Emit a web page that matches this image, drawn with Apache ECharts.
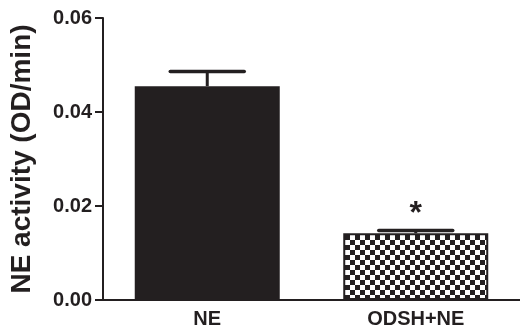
<!DOCTYPE html>
<html><head><meta charset="utf-8">
<script src="https://cdn.jsdelivr.net/npm/echarts@6/dist/echarts.min.js"></script>
<style>html,body{margin:0;padding:0;background:#fff}#c{width:520px;height:333px}</style>
</head><body><div id="c"></div>
<script>
const categories = ['NE', 'ODSH+NE'];
const means = [0.0455, 0.0142];
const sem = [0.0031, 0.0006];
const sigMarks = ['', '*'];
const yAxisName = 'NE activity (OD/min)';

const ink = '#231f20';
const cv = document.createElement('canvas');
cv.width = 10; cv.height = 10;
const cx = cv.getContext('2d');
cx.fillStyle = '#fff'; cx.fillRect(0,0,10,10);
cx.fillStyle = ink; cx.fillRect(0,0,5,5); cx.fillRect(5,5,5,5);

const barData = means.map((v,i) => i === 0
  ? {value: v, itemStyle: {color: ink}}
  : {value: v, itemStyle: {color: {image: cv, repeat: 'repeat'}, borderColor: ink, borderWidth: 2}});
const errData = means.map((v,i) => [i, v, v + sem[i], sigMarks[i]]);

const chart = echarts.init(document.getElementById('c'), null, {renderer: 'canvas'});
chart.setOption({
  animation: false,
  grid: {left: 100, right: -6, top: 18, bottom: 33, containLabel: false},
  xAxis: {
    type: 'category', data: categories,
    axisLine: {lineStyle: {color: ink, width: 2}},
    axisTick: {alignWithLabel: true, length: 8, lineStyle: {color: ink, width: 2}},
    axisLabel: {color: ink, fontFamily: 'Liberation Sans, Arial', fontWeight: 'bold', fontSize: 20, margin: 9}
  },
  yAxis: {
    type: 'value', min: 0, max: 0.06, interval: 0.02,
    name: yAxisName, nameLocation: 'middle', nameGap: 67,
    nameTextStyle: {color: ink, fontFamily: 'Liberation Sans, Arial', fontWeight: 'bold', fontSize: 28},
    axisLine: {show: true, lineStyle: {color: ink, width: 2}},
    axisTick: {show: true, length: 8, lineStyle: {color: ink, width: 2}},
    splitLine: {show: false},
    axisLabel: {color: ink, fontFamily: 'Liberation Sans, Arial', fontWeight: 'bold', fontSize: 20, margin: 11,
      formatter: v => v.toFixed(2)}
  },
  series: [
    {type: 'bar', data: barData, barWidth: 145, z: 2},
    {type: 'custom', z: 3, data: errData,
      renderItem: (params, api) => {
        const i = api.value(0);
        const top = api.coord([i, api.value(1)]);
        const up = api.coord([i, api.value(2)]);
        const half = 37;
        const children = [
          {type: 'line', shape: {x1: top[0], y1: top[1], x2: up[0], y2: up[1]}, style: {stroke: ink, lineWidth: 3}},
          {type: 'line', shape: {x1: up[0]-half, y1: up[1], x2: up[0]+half, y2: up[1]}, style: {stroke: ink, lineWidth: 3.5, lineCap: 'round'}}
        ];
        const mark = errData[params.dataIndex][3];
        if (mark) children.push({type: 'text', x: up[0], y: up[1],
          style: {text: mark, fill: ink, font: 'bold 32px Liberation Sans, Arial', align: 'center', verticalAlign: 'bottom'}});
        return {type: 'group', children};
      }}
  ]
});
</script></body></html>
